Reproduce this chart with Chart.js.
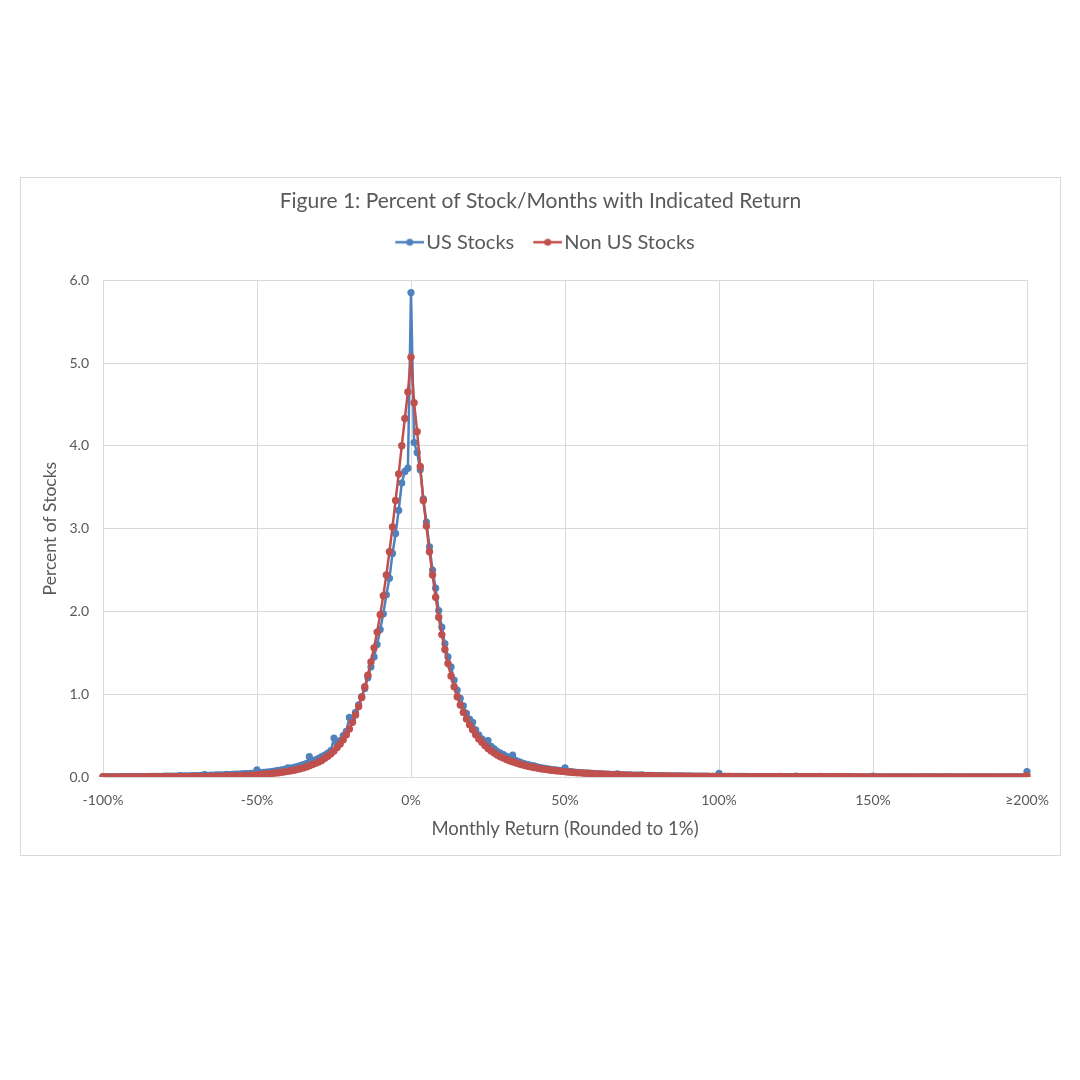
<!DOCTYPE html>
<html>
<head>
<meta charset="utf-8">
<title>Figure 1</title>
<script src="https://cdn.jsdelivr.net/npm/chart.js@4.4.1/dist/chart.umd.min.js"></script>
<style>
  html, body { margin: 0; padding: 0; background: #fff; }
  #frame {
    position: absolute; left: 20px; top: 177px;
    width: 1041px; height: 679px;
    border: 1px solid #d9d9d9; box-sizing: border-box;
  }
</style>
</head>
<body>
<div id="frame"><canvas id="chart"></canvas></div>
<script>
// categories: monthly return rounded to 1%, -100% .. >=200%
const categories = [];
for (let r = -100; r <= 200; r++) categories.push(r === 200 ? '≥200%' : r + '%');

const tickLabels = ['-100%', '-50%', '0%', '50%', '100%', '150%', '≥200%'];
const yTicks = [0, 1, 2, 3, 4, 5, 6];

// US Stocks, percent of stock/months
const usStocks = [
  // -100% .. -51%
  0.006, 0.003, 0.003, 0.003, 0.003, 0.004, 0.004, 0.004, 0.004, 0.005,
  0.005, 0.005, 0.006, 0.006, 0.006, 0.007, 0.007, 0.008, 0.008, 0.009,
  0.012, 0.010, 0.011, 0.011, 0.012, 0.016, 0.013, 0.014, 0.015, 0.016,
  0.018, 0.018, 0.019, 0.030, 0.021, 0.022, 0.024, 0.025, 0.026, 0.027,
  0.032, 0.030, 0.032, 0.034, 0.036, 0.038, 0.040, 0.042, 0.045, 0.048,
  // -50% .. -1%
  0.085, 0.052, 0.055, 0.059, 0.063, 0.068, 0.073, 0.079, 0.085, 0.092,
  0.110, 0.108, 0.117, 0.127, 0.138, 0.150, 0.163, 0.245, 0.192, 0.208,
  0.226, 0.245, 0.266, 0.289, 0.320, 0.470, 0.400, 0.440, 0.500, 0.550,
  0.720, 0.680, 0.780, 0.870, 0.970, 1.070, 1.200, 1.330, 1.450, 1.600,
  1.780, 1.970, 2.200, 2.400, 2.700, 2.940, 3.220, 3.550, 3.690, 3.730,
  // 0%
  5.850,
  // 1% .. 50%
  4.040, 3.920, 3.710, 3.360, 3.080, 2.780, 2.500, 2.280, 2.010, 1.810,
  1.610, 1.450, 1.330, 1.170, 1.050, 0.950, 0.860, 0.770, 0.700, 0.660,
  0.570, 0.510, 0.460, 0.410, 0.440, 0.370, 0.340, 0.310, 0.290, 0.270,
  0.250, 0.230, 0.265, 0.200, 0.185, 0.172, 0.160, 0.150, 0.140, 0.135,
  0.122, 0.115, 0.108, 0.102, 0.096, 0.090, 0.085, 0.080, 0.076, 0.110,
  // 51% .. 100%
  0.068, 0.064, 0.060, 0.057, 0.054, 0.051, 0.048, 0.046, 0.043, 0.041,
  0.039, 0.037, 0.035, 0.034, 0.032, 0.031, 0.038, 0.028, 0.027, 0.026,
  0.025, 0.024, 0.023, 0.022, 0.026, 0.020, 0.019, 0.019, 0.018, 0.017,
  0.017, 0.016, 0.015, 0.015, 0.014, 0.014, 0.013, 0.013, 0.012, 0.012,
  0.012, 0.011, 0.011, 0.010, 0.010, 0.010, 0.009, 0.009, 0.009, 0.045,
  // 101% .. 150%
  0.008, 0.008, 0.008, 0.008, 0.007, 0.007, 0.007, 0.007, 0.007, 0.006,
  0.006, 0.006, 0.006, 0.006, 0.006, 0.005, 0.005, 0.005, 0.005, 0.008,
  0.005, 0.005, 0.004, 0.004, 0.010, 0.004, 0.004, 0.004, 0.004, 0.004,
  0.004, 0.004, 0.009, 0.004, 0.003, 0.003, 0.003, 0.003, 0.003, 0.003,
  0.003, 0.003, 0.003, 0.003, 0.003, 0.003, 0.003, 0.003, 0.003, 0.010,
  // 151% .. >=200%
  0.003, 0.003, 0.003, 0.002, 0.002, 0.002, 0.002, 0.002, 0.002, 0.002,
  0.002, 0.002, 0.002, 0.002, 0.002, 0.002, 0.006, 0.002, 0.002, 0.002,
  0.002, 0.002, 0.002, 0.002, 0.004, 0.002, 0.002, 0.002, 0.002, 0.002,
  0.002, 0.002, 0.002, 0.002, 0.002, 0.002, 0.002, 0.002, 0.002, 0.002,
  0.002, 0.002, 0.002, 0.002, 0.002, 0.002, 0.002, 0.002, 0.002, 0.065
];

// Non US Stocks
const nonUsStocks = [
  // -100% .. -51%
  0.004, 0.002, 0.002, 0.002, 0.002, 0.002, 0.002, 0.002, 0.002, 0.002,
  0.002, 0.002, 0.002, 0.003, 0.003, 0.003, 0.003, 0.003, 0.003, 0.003,
  0.004, 0.004, 0.004, 0.004, 0.004, 0.005, 0.005, 0.005, 0.005, 0.006,
  0.006, 0.006, 0.007, 0.007, 0.008, 0.008, 0.009, 0.009, 0.010, 0.011,
  0.012, 0.013, 0.014, 0.015, 0.016, 0.017, 0.019, 0.020, 0.022, 0.025,
  // -50% .. -1%
  0.029, 0.031, 0.034, 0.037, 0.040, 0.044, 0.048, 0.052, 0.057, 0.062,
  0.068, 0.075, 0.082, 0.090, 0.100, 0.110, 0.122, 0.135, 0.150, 0.165,
  0.180, 0.200, 0.225, 0.250, 0.280, 0.315, 0.355, 0.400, 0.450, 0.510,
  0.580, 0.660, 0.750, 0.850, 0.960, 1.090, 1.230, 1.390, 1.560, 1.750,
  1.960, 2.190, 2.440, 2.720, 3.020, 3.340, 3.660, 4.000, 4.330, 4.650,
  // 0%
  5.070,
  // 1% .. 50%
  4.520, 4.170, 3.750, 3.340, 3.030, 2.720, 2.440, 2.170, 1.930, 1.720,
  1.540, 1.370, 1.220, 1.090, 0.970, 0.870, 0.780, 0.700, 0.630, 0.570,
  0.510, 0.460, 0.420, 0.380, 0.345, 0.315, 0.290, 0.265, 0.245, 0.230,
  0.212, 0.197, 0.185, 0.172, 0.160, 0.149, 0.139, 0.130, 0.122, 0.115,
  0.108, 0.101, 0.095, 0.090, 0.085, 0.080, 0.076, 0.072, 0.068, 0.065,
  // 51% .. 100%
  0.061, 0.058, 0.055, 0.052, 0.050, 0.047, 0.045, 0.042, 0.040, 0.038,
  0.036, 0.035, 0.033, 0.031, 0.029, 0.028, 0.027, 0.025, 0.024, 0.022,
  0.021, 0.020, 0.019, 0.018, 0.018, 0.017, 0.016, 0.015, 0.015, 0.014,
  0.013, 0.013, 0.012, 0.012, 0.011, 0.011, 0.010, 0.010, 0.010, 0.009,
  0.009, 0.008, 0.008, 0.008, 0.007, 0.007, 0.007, 0.007, 0.006, 0.006,
  // 101% .. 150%
  0.006, 0.006, 0.006, 0.005, 0.005, 0.005, 0.005, 0.005, 0.005, 0.004,
  0.004, 0.004, 0.004, 0.004, 0.004, 0.004, 0.004, 0.004, 0.003, 0.003,
  0.003, 0.003, 0.003, 0.003, 0.003, 0.003, 0.003, 0.003, 0.003, 0.003,
  0.003, 0.003, 0.003, 0.003, 0.003, 0.003, 0.003, 0.003, 0.003, 0.003,
  0.003, 0.003, 0.003, 0.002, 0.002, 0.002, 0.002, 0.002, 0.002, 0.002,
  // 151% .. >=200%
  0.002, 0.002, 0.002, 0.002, 0.002, 0.002, 0.002, 0.002, 0.002, 0.002,
  0.002, 0.002, 0.002, 0.002, 0.002, 0.002, 0.002, 0.002, 0.002, 0.002,
  0.002, 0.002, 0.002, 0.002, 0.002, 0.002, 0.002, 0.002, 0.002, 0.002,
  0.002, 0.002, 0.002, 0.002, 0.002, 0.002, 0.002, 0.002, 0.002, 0.002,
  0.002, 0.002, 0.002, 0.002, 0.002, 0.002, 0.002, 0.002, 0.002, 0.016
];

const blue = '#4F81BD';
const red = '#C0504D';
const textGray = '#595959';
const gridGray = '#d9d9d9';
const fontFamily = 'Lato, "Open Sans", sans-serif';

// Excel style legend mark: short line with a dot (blank strip on the left = gap to previous item)
const legendMark = (color) => {
  const c = document.createElement('canvas');
  c.width = 46; c.height = 10;
  const g = c.getContext('2d');
  g.strokeStyle = color; g.lineWidth = 2.5;
  g.beginPath(); g.moveTo(17, 5); g.lineTo(46, 5); g.stroke();
  g.fillStyle = color;
  g.beginPath(); g.arc(31.5, 5, 3.5, 0, Math.PI * 2); g.fill();
  return c;
};
const legendMarks = [legendMark(blue), legendMark(red)];

// extra room between legend and plot
const legendGap = {
  id: 'legendGap',
  beforeInit(chart) {
    const fit = chart.legend.fit;
    chart.legend.fit = function () { fit.call(this); this.height += 18; };
  }
};

new Chart(document.getElementById('chart'), {
  type: 'line',
  data: {
    labels: categories,
    datasets: [
      { label: 'US Stocks', data: usStocks, borderColor: blue, backgroundColor: blue,
        pointBackgroundColor: blue, borderWidth: 2.5, pointRadius: 3.6, pointBorderWidth: 0, order: 1 },
      { label: 'Non US Stocks', data: nonUsStocks, borderColor: red, backgroundColor: red,
        pointBackgroundColor: red, borderWidth: 2.5, pointRadius: 3.7, pointBorderWidth: 0, order: 0 }
    ]
  },
  options: {
    responsive: true,
    maintainAspectRatio: false,
    animation: false,
    plugins: {
      title: {
        display: true,
        text: 'Figure 1: Percent of Stock/Months with Indicated Return',
        color: textGray,
        font: { family: fontFamily, size: 21, weight: 'normal' },
        padding: { top: 11, bottom: 8 }
      },
      legend: {
        position: 'top',
        labels: {
          color: textGray,
          font: { family: fontFamily, size: 20 },
          usePointStyle: true,
          pointStyleWidth: 30,
          padding: 10,
          generateLabels(chart) {
            const items = Chart.defaults.plugins.legend.labels.generateLabels(chart);
            items.forEach(it => { it.pointStyle = legendMarks[it.datasetIndex]; });
            return items;
          },
          sort: (a, b) => a.datasetIndex - b.datasetIndex
        }
      },
      tooltip: { enabled: false }
    },
    scales: {
      x: {
        type: 'category',
        offset: false,
        grid: { color: gridGray, drawTicks: false },
        border: { color: gridGray },
        ticks: {
          autoSkip: false,
          maxRotation: 0,
          padding: 15,
          color: textGray,
          font: { family: fontFamily, size: 14 },
          callback: (value, index) => index % 50 === 0 ? tickLabels[index / 50] : null
        },
        title: {
          display: true,
          text: 'Monthly Return (Rounded to 1%)',
          color: textGray,
          font: { family: fontFamily, size: 18.5 },
          padding: { top: 15, bottom: 15 }
        },
        afterFit(scale) { scale.height = 78; scale.paddingLeft = 0; scale.paddingRight = 33; }
      },
      y: {
        min: 0,
        max: 6,
        afterBuildTicks(scale) { scale.ticks = yTicks.map(v => ({ value: v })); },
        grid: { color: gridGray, drawTicks: false },
        border: { display: false },
        ticks: {
          padding: 14,
          color: textGray,
          font: { family: fontFamily, size: 14 },
          callback: (v) => Number(v).toFixed(1)
        },
        title: {
          display: true,
          text: 'Percent of Stocks',
          color: textGray,
          font: { family: fontFamily, size: 17.5 },
          padding: { top: 19, bottom: 19 }
        },
        afterFit(scale) { scale.width = 82; }
      }
    }
  },
  plugins: [legendGap]
});
</script>
</body>
</html>
